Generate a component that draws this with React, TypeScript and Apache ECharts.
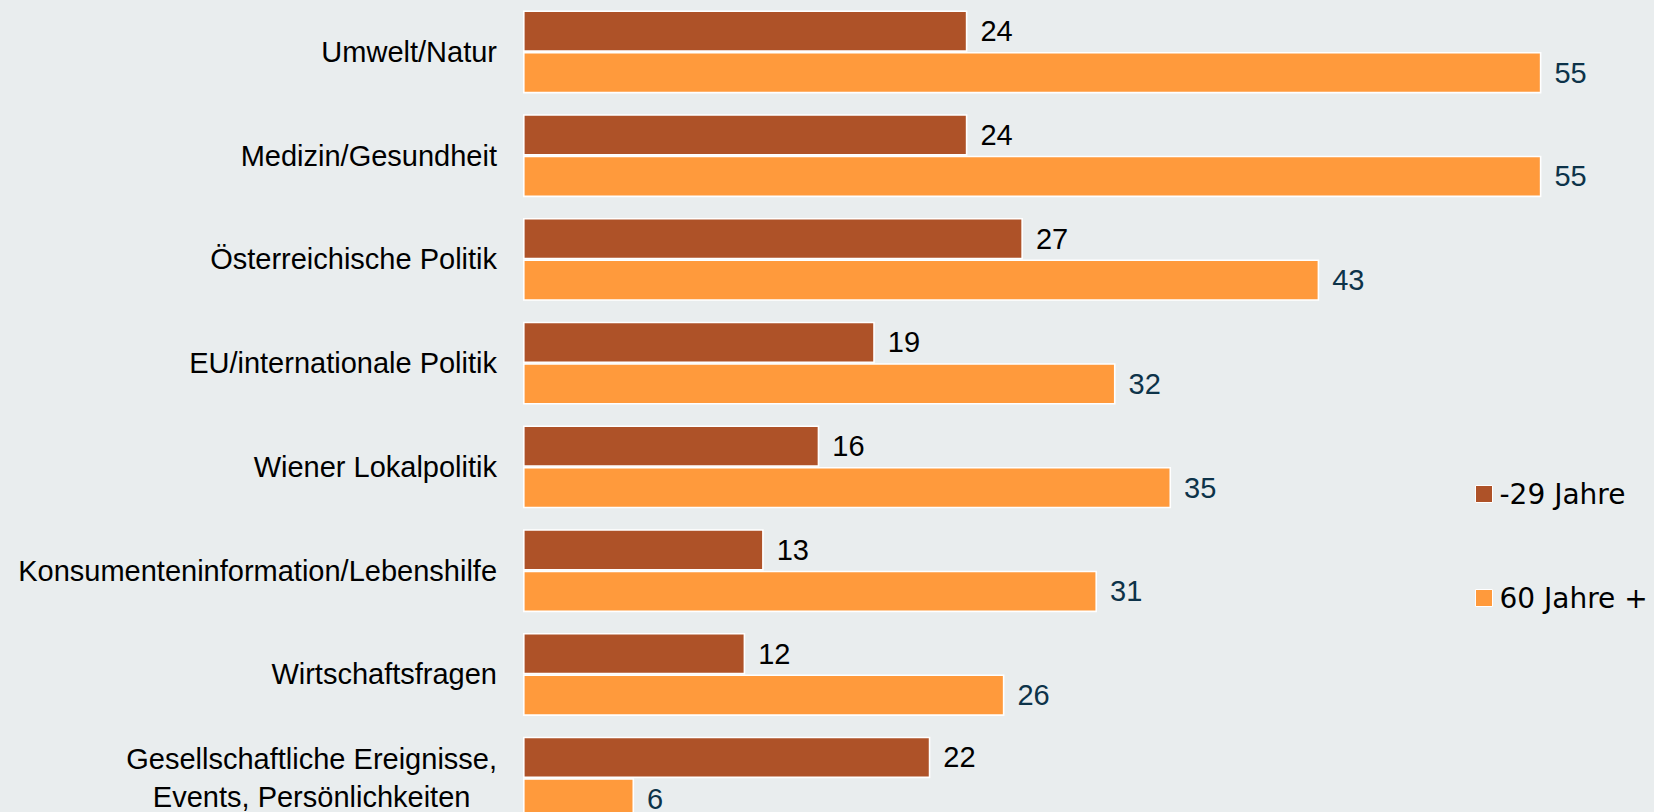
import React, { useEffect, useRef } from "react";
import * as echarts from "echarts";

const categories = [
  "Umwelt/Natur",
  "Medizin/Gesundheit",
  "Österreichische Politik",
  "EU/internationale Politik",
  "Wiener Lokalpolitik",
  "Konsumenteninformation/Lebenshilfe",
  "Wirtschaftsfragen",
  "Gesellschaftliche Ereignisse,\nEvents, Persönlichkeiten",
];
const seriesNames = ["-29 Jahre", "60 Jahre +"];
const young = [24, 24, 27, 19, 16, 13, 12, 22];
const old = [55, 55, 43, 32, 35, 31, 26, 6];

const FONT = "'Liberation Sans', Arial, sans-serif";

export default function App() {
  const ref = useRef<HTMLDivElement>(null);
  useEffect(() => {
    if (!ref.current) return;
    const chart = echarts.init(ref.current, undefined, { renderer: "svg" });
    chart.setOption({
      animation: false,
      backgroundColor: "#E9EDEE",
      grid: { left: 523, top: -1, width: 1111, height: 831, containLabel: false },
      xAxis: { type: "value", min: 0, max: 60, show: false },
      yAxis: {
        type: "category",
        data: categories,
        inverse: true,
        axisLine: { show: false },
        axisTick: { show: false },
        axisLabel: {
          margin: 26,
          fontFamily: FONT,
          fontSize: 29,
          color: "#000",
          lineHeight: 38,
          formatter: (v: string) =>
            v
              .split("\n")
              .map((l) => "{c|" + l + "}")
              .join("\n"),
          rich: {
            c: { align: "center", fontFamily: FONT, fontSize: 29, color: "#000", lineHeight: 38 },
          },
        },
      },
      legend: {
        orient: "vertical",
        left: 1470,
        top: 475,
        itemWidth: 17,
        itemHeight: 17,
        itemGap: 76,
        icon: "rect",
        textStyle: {
          fontFamily: "'DejaVu Sans', Verdana, sans-serif",
          fontSize: 28,
          lineHeight: 28,
          color: "#000",
          padding: [0, 0, 0, 2],
        },
        itemStyle: { borderColor: "#fff", borderWidth: 1 },
        data: seriesNames,
      },
      series: [
        {
          name: seriesNames[0],
          type: "bar",
          data: young,
          barWidth: 41.5,
          barGap: "0%",
          itemStyle: { color: "#AE5228", borderColor: "#fff", borderWidth: 1.6 },
          label: {
            show: true,
            position: "right",
            distance: 13,
            fontFamily: FONT,
            fontSize: 29,
            color: "#000",
          },
        },
        {
          name: seriesNames[1],
          type: "bar",
          data: old,
          barWidth: 41.5,
          barGap: "0%",
          itemStyle: { color: "#FF9A3C", borderColor: "#fff", borderWidth: 1.6 },
          label: {
            show: true,
            position: "right",
            distance: 13,
            fontFamily: FONT,
            fontSize: 29,
            color: "#0D3349",
          },
        },
      ],
    });
    return () => chart.dispose();
  }, []);
  return (
    <div
      style={{
        position: "absolute",
        left: 0,
        top: 0,
        width: 1654,
        height: 812,
        overflow: "hidden",
        background: "#E9EDEE",
      }}
    >
      <div ref={ref} style={{ width: 1654, height: 840 }} />
    </div>
  );
}
